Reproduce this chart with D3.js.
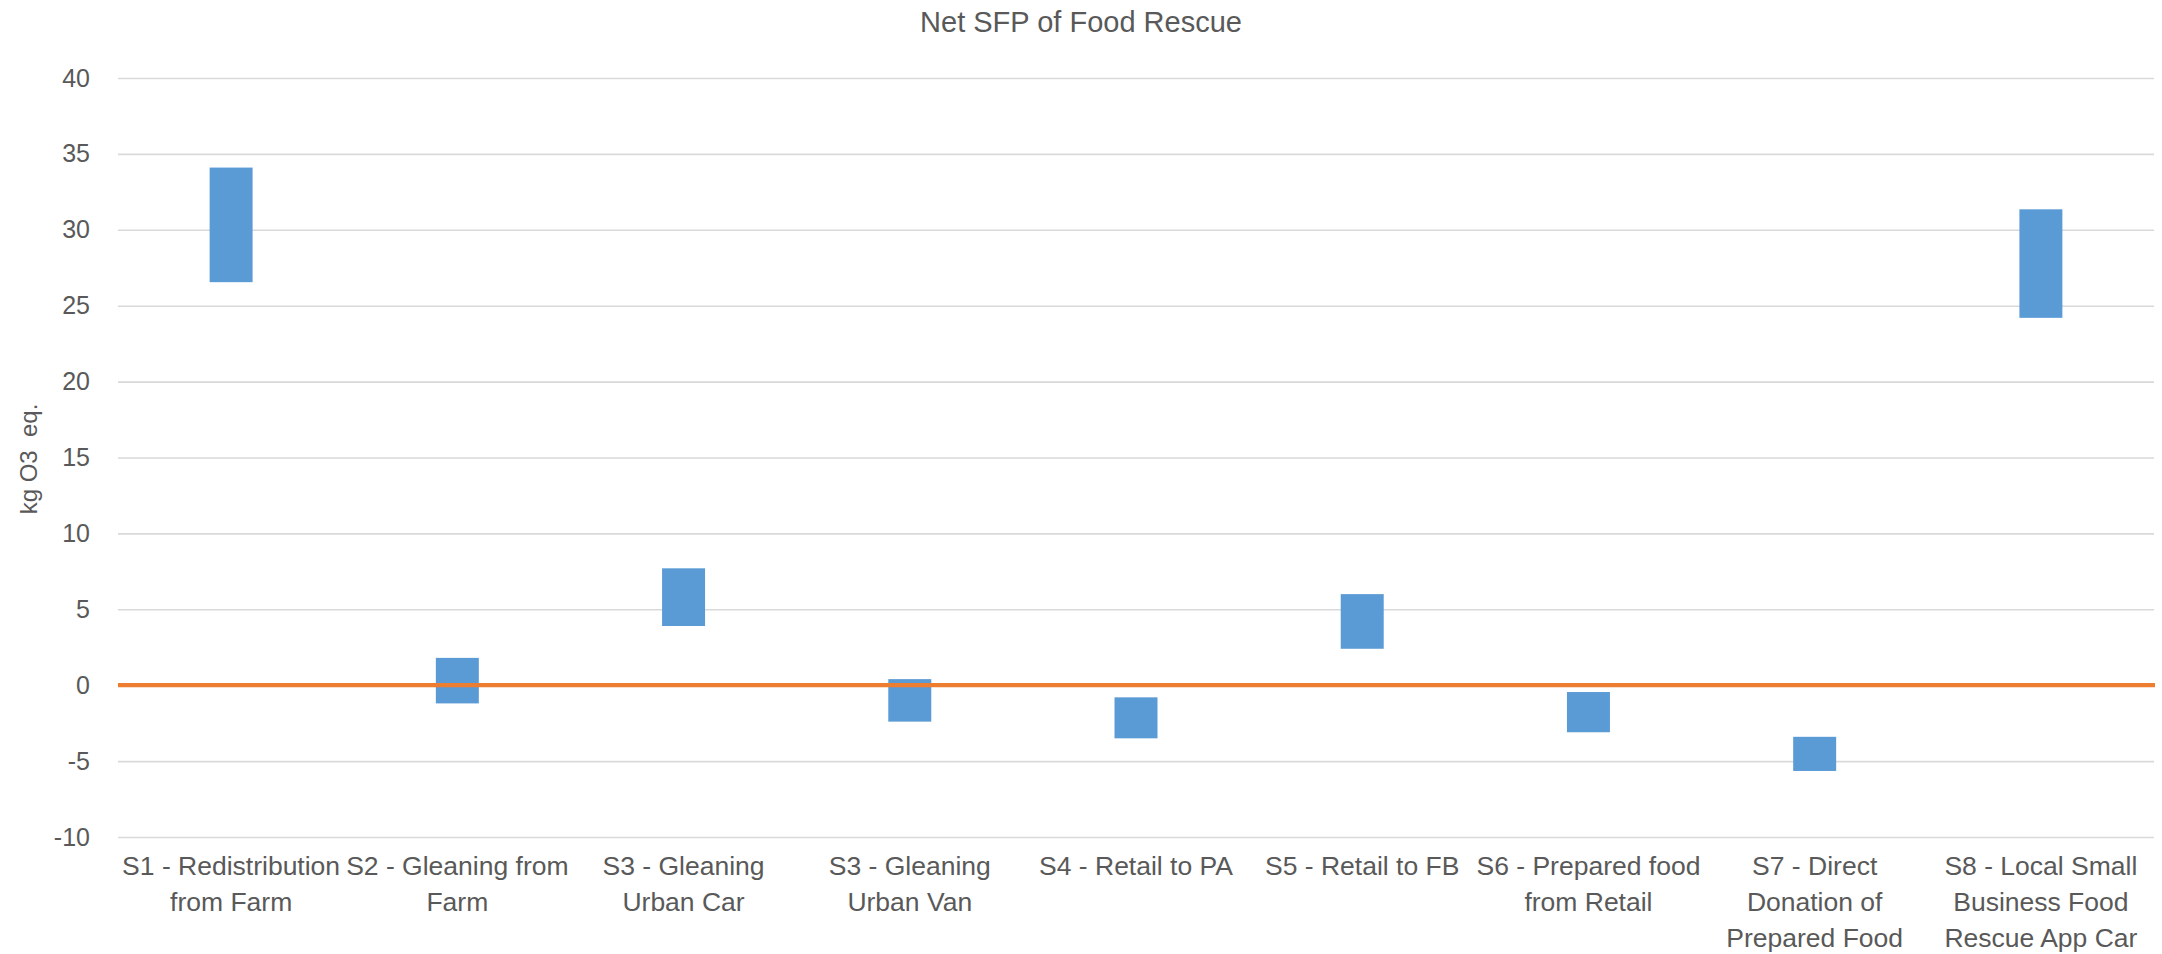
<!DOCTYPE html>
<html>
<head>
<meta charset="utf-8">
<script src="https://cdn.jsdelivr.net/npm/d3@7"></script>
<style>
  html, body { margin: 0; padding: 0; background: #ffffff; }
  svg { display: block; }
  text { font-family: "Liberation Sans", Arial, sans-serif; fill: #595959; }
</style>
</head>
<body>
<svg id="chart" width="2162" height="954"></svg>
<script>
// ---- Data ----
const categories = [
  "S1 - Redistribution\nfrom Farm",
  "S2 - Gleaning from\nFarm",
  "S3 - Gleaning\nUrban Car",
  "S3 - Gleaning\nUrban Van",
  "S4 - Retail to PA",
  "S5 - Retail to FB",
  "S6 - Prepared food\nfrom Retail",
  "S7 - Direct\nDonation of\nPrepared Food",
  "S8 - Local Small\nBusiness Food\nRescue App Car"
];
const lowValues  = [26.55, -1.2, 3.9, -2.4, -3.5, 2.4, -3.1, -5.65, 24.2];
const highValues = [34.1, 1.8, 7.7, 0.4, -0.8, 6.0, -0.45, -3.4, 31.35];
const referenceValue = 0;
const yTicks = [-10, -5, 0, 5, 10, 15, 20, 25, 30, 35, 40];
const chartTitle = "Net SFP of Food Rescue";
const yAxisTitle = "kg O3  eq.";

// ---- Layout ----
const W = 2162, H = 954;
const plot = { left: 118, right: 2154, top: 78, bottom: 837 };

const svg = d3.select("#chart");
svg.append("rect").attr("width", W).attr("height", H).attr("fill", "#ffffff");

const x = d3.scaleBand()
  .domain(categories)
  .range([plot.left, plot.right])
  .paddingInner(0.81)
  .paddingOuter(0.405);

const y = d3.scaleLinear()
  .domain([d3.min(yTicks), d3.max(yTicks)])
  .range([plot.bottom, plot.top]);

// Gridlines + y tick labels
const yAxis = d3.axisLeft(y)
  .tickValues(yTicks)
  .tickSize(-(plot.right - plot.left))
  .tickPadding(28)
  .tickFormat(d => String(d));

const gy = svg.append("g")
  .attr("transform", `translate(${plot.left},0)`)
  .call(yAxis);
gy.select(".domain").remove();
gy.selectAll(".tick line").attr("stroke", "#d9d9d9").attr("stroke-width", 1.6);
gy.selectAll(".tick text")
  .attr("font-size", 25)
  .style("font-family", "'Liberation Sans', Arial, sans-serif")
  .attr("fill", "#595959");

// Floating bars
const rows = categories.map((c, i) => ({ c, lo: lowValues[i], hi: highValues[i] }));
svg.append("g").selectAll("rect")
  .data(rows)
  .join("rect")
  .attr("x", d => x(d.c))
  .attr("width", x.bandwidth())
  .attr("y", d => y(d.hi))
  .attr("height", d => y(d.lo) - y(d.hi))
  .attr("fill", "#5b9bd5");

// Reference line at 0
svg.append("line")
  .attr("x1", plot.left).attr("x2", plot.right + 1)
  .attr("y1", y(referenceValue)).attr("y2", y(referenceValue))
  .attr("stroke", "#ed7d31")
  .attr("stroke-width", 4.2);

// X category labels
const xl = svg.append("g").selectAll("text")
  .data(categories)
  .join("text")
  .attr("text-anchor", "middle")
  .attr("font-size", 26.5)
  .attr("x", d => x(d) + x.bandwidth() / 2)
  .attr("y", 875);
xl.each(function(d) {
  const t = d3.select(this);
  d.split("\n").forEach((line, i) => {
    t.append("tspan")
      .attr("x", x(d) + x.bandwidth() / 2)
      .attr("y", 875 + i * 36)
      .text(line);
  });
});

// Title
svg.append("text")
  .attr("x", W / 2)
  .attr("y", 32)
  .attr("text-anchor", "middle")
  .attr("font-size", 29)
  .text(chartTitle);

// Y axis title
svg.append("text")
  .attr("transform", `translate(37,459) rotate(-90)`)
  .attr("text-anchor", "middle")
  .attr("font-size", 24)
  .style("white-space", "pre")
  .attr("xml:space", "preserve")
  .text(yAxisTitle);
</script>
</body>
</html>
